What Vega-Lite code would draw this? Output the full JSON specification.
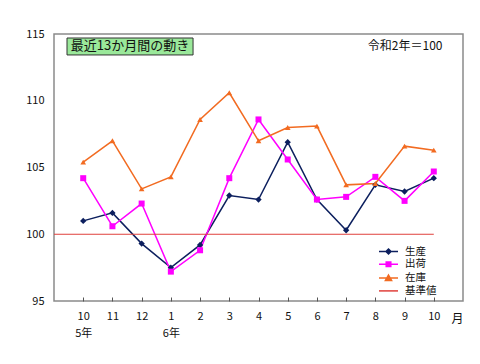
{
  "$schema": "https://vega.github.io/schema/vega-lite/v6.json",
  "width": 409,
  "height": 267,
  "autosize": {"type": "none"},
  "padding": {"left": 54, "top": 34, "right": 17, "bottom": 63},
  "background": "white",
  "config": {
    "font": "Noto Sans CJK JP",
    "view": {"stroke": "#8a8a8a", "strokeWidth": 1.5},
    "axis": {"labelFont": "Noto Sans CJK JP", "labelFontSize": 11, "labelColor": "#111", "grid": false, "domain": false, "title": null},
    "axisX": {"labelOverlap": false, "labelSeparation": -1000, "labelFlush": false}
  },
  "datasets": {
    "idx": [
      {"i": 0, "生産": 101.0, "出荷": 104.2, "在庫": 105.4},
      {"i": 1, "生産": 101.6, "出荷": 100.6, "在庫": 107.0},
      {"i": 2, "生産": 99.3, "出荷": 102.3, "在庫": 103.4},
      {"i": 3, "生産": 97.5, "出荷": 97.2, "在庫": 104.3},
      {"i": 4, "生産": 99.2, "出荷": 98.8, "在庫": 108.6},
      {"i": 5, "生産": 102.9, "出荷": 104.2, "在庫": 110.6},
      {"i": 6, "生産": 102.6, "出荷": 108.6, "在庫": 107.0},
      {"i": 7, "生産": 106.9, "出荷": 105.6, "在庫": 108.0},
      {"i": 8, "生産": 102.6, "出荷": 102.6, "在庫": 108.1},
      {"i": 9, "生産": 100.3, "出荷": 102.8, "在庫": 103.7},
      {"i": 10, "生産": 103.7, "出荷": 104.3, "在庫": 103.8},
      {"i": 11, "生産": 103.2, "出荷": 102.5, "在庫": 106.6},
      {"i": 12, "生産": 104.2, "出荷": 104.7, "在庫": 106.3}
    ],
    "one": [{"k": 1}]
  },
  "layer": [
    {
      "data": {"name": "idx"},
      "transform": [{"fold": ["生産", "出荷", "在庫"], "as": ["series", "v"]}],
      "mark": {"type": "line", "strokeWidth": 1.5},
      "encoding": {
        "x": {
          "field": "i", "type": "quantitative",
          "scale": {"domain": [-1, 13], "nice": false, "zero": false},
          "axis": {
            "values": [0,1,2,3,4,5,6,7,8,9,10,11,12],
            "tickCount": 14,
            "labelExpr": "[['10','5年'],'11','12',['1','6年'],'2','3','4','5','6','7','8','9','10'][datum.value]",
            "ticks": true, "tickSize": -4, "tickColor": "#555",
            "labelPadding": 13, "labelBaseline": "top", "labelLineHeight": 17, "labelOverlap": false,
            "title": "月", "titleX": 397, "titleY": 12, "titleAlign": "left", "titleBaseline": "top", "titleFontSize": 12, "titleFontWeight": "normal", "titleFont": "Noto Sans CJK JP", "titleColor": "#111"
          }
        },
        "y": {
          "field": "v", "type": "quantitative",
          "scale": {"domain": [95, 115], "nice": false, "zero": false},
          "axis": {"values": [95, 100, 105, 110, 115], "ticks": false, "labelPadding": 10}
        },
        "color": {
          "field": "series", "type": "nominal",
          "scale": {"domain": ["生産", "出荷", "在庫", "基準値"], "range": ["#0c1f5e", "#ff00ff", "#f26b21", "#e0403c"]},
          "legend": {
            "title": null, "orient": "none", "legendX": 328.5, "legendY": 211.5,
            "padding": 0, "symbolSize": 100, "labelOffset": 10.5, "labelFontSize": 10.5, "labelFont": "Noto Sans CJK JP", "labelColor": "#111", "rowPadding": 0.8,
            "symbolStrokeWidth": 1.5,
            "encode": {
              "symbols": {
                "update": {
                  "shape": {"signal": "datum.value=='生産' ? 'M-1.9,0L1.9,0M0,-0.5L0.5,0L0,0.5L-0.5,0Z' : datum.value=='出荷' ? 'M-1.9,0L1.9,0M-0.46,-0.46L0.46,-0.46L0.46,0.46L-0.46,0.46Z' : datum.value=='在庫' ? 'M-1.9,0L1.9,0M0,-0.62L0.62,0.46L-0.62,0.46Z' : 'M-1.9,0L1.9,0'"},
                  "fill": {"scale": "color", "field": "value"},
                  "stroke": {"scale": "color", "field": "value"}
                }
              }
            }
          }
        }
      }
    },
    {
      "data": {"name": "idx"},
      "transform": [{"fold": ["生産", "出荷", "在庫"], "as": ["series", "v"]}],
      "mark": {"type": "point", "filled": true, "opacity": 1},
      "encoding": {
        "x": {"field": "i", "type": "quantitative"},
        "y": {"field": "v", "type": "quantitative"},
        "color": {"field": "series", "type": "nominal", "legend": null},
        "shape": {"field": "series", "type": "nominal", "scale": {"domain": ["生産", "出荷", "在庫"], "range": ["diamond", "square", "triangle-up"]}, "legend": null},
        "size": {"field": "series", "type": "nominal", "scale": {"domain": ["生産", "出荷", "在庫"], "range": [40, 32, 45]}, "legend": null}
      }
    },
    {
      "data": {"name": "one"},
      "mark": {"type": "rule", "strokeWidth": 1},
      "encoding": {
        "x": {"datum": -1, "type": "quantitative"},
        "x2": {"datum": 12},
        "y": {"datum": 100, "type": "quantitative"},
        "color": {"datum": "基準値"}
      }
    },
    {
      "data": {"name": "one"},
      "mark": {"type": "rect", "fill": "#9ae89a", "stroke": "#333", "strokeWidth": 1},
      "encoding": {
        "x": {"datum": -0.555, "type": "quantitative"},
        "x2": {"datum": 3.76},
        "y": {"datum": 114.7, "type": "quantitative"},
        "y2": {"datum": 113.43}
      }
    },
    {
      "data": {"name": "one"},
      "mark": {"type": "text", "fontSize": 13, "font": "Noto Sans CJK JP", "color": "#111", "align": "center", "baseline": "middle"},
      "encoding": {
        "x": {"datum": 1.6, "type": "quantitative"},
        "y": {"datum": 114.07, "type": "quantitative"},
        "text": {"value": "最近13か月間の動き"}
      }
    },
    {
      "data": {"name": "one"},
      "mark": {"type": "text", "fontSize": 12, "font": "Noto Sans CJK JP", "color": "#111", "align": "center", "baseline": "middle"},
      "encoding": {
        "x": {"datum": 11.02, "type": "quantitative"},
        "y": {"datum": 114.1, "type": "quantitative"},
        "text": {"value": "令和2年＝100"}
      }
    }
  ]
}
